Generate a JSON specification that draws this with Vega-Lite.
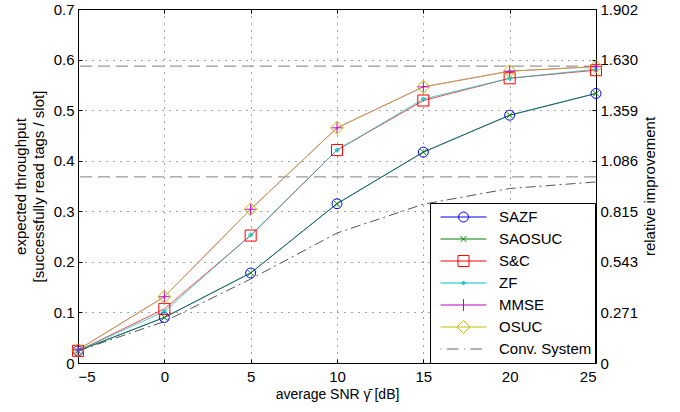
{
  "$schema": "https://vega.github.io/schema/vega-lite/v6.json",
  "width": 518,
  "height": 354,
  "autosize": {"type": "none"},
  "padding": {"left": 78, "top": 9, "right": 84, "bottom": 49},
  "background": "white",
  "config": {
    "view": {"stroke": null},
    "axis": {
      "domainColor": "black", "domainWidth": 1, "tickColor": "black", "tickWidth": 1,
      "labelColor": "black", "titleColor": "black",
      "labelFont": "Liberation Sans", "titleFont": "Liberation Sans",
      "labelFontSize": 15, "titleFontSize": 15, "titleFontWeight": "normal",
      "gridColor": "#444", "gridDash": [1, 6], "gridWidth": 1,
      "tickSize": -4, "labelPadding": 8
    },
    "legend": {
      "labelFont": "Liberation Sans", "labelFontSize": 15, "labelColor": "black"
    }
  },
  "datasets": {
    "curves": [
      {"series": "SAZF", "snr": -5, "tp": 0.024}, {"series": "SAZF", "snr": 0, "tp": 0.090}, {"series": "SAZF", "snr": 5, "tp": 0.178}, {"series": "SAZF", "snr": 10, "tp": 0.315}, {"series": "SAZF", "snr": 15, "tp": 0.417}, {"series": "SAZF", "snr": 20, "tp": 0.490}, {"series": "SAZF", "snr": 25, "tp": 0.533},
      {"series": "SAOSUC", "snr": -5, "tp": 0.024}, {"series": "SAOSUC", "snr": 0, "tp": 0.090}, {"series": "SAOSUC", "snr": 5, "tp": 0.178}, {"series": "SAOSUC", "snr": 10, "tp": 0.315}, {"series": "SAOSUC", "snr": 15, "tp": 0.417}, {"series": "SAOSUC", "snr": 20, "tp": 0.490}, {"series": "SAOSUC", "snr": 25, "tp": 0.533},
      {"series": "S&C", "snr": -5, "tp": 0.024}, {"series": "S&C", "snr": 0, "tp": 0.107}, {"series": "S&C", "snr": 5, "tp": 0.252}, {"series": "S&C", "snr": 10, "tp": 0.421}, {"series": "S&C", "snr": 15, "tp": 0.519}, {"series": "S&C", "snr": 20, "tp": 0.563}, {"series": "S&C", "snr": 25, "tp": 0.579},
      {"series": "ZF", "snr": -5, "tp": 0.024}, {"series": "ZF", "snr": 0, "tp": 0.102}, {"series": "ZF", "snr": 5, "tp": 0.253}, {"series": "ZF", "snr": 10, "tp": 0.421}, {"series": "ZF", "snr": 15, "tp": 0.522}, {"series": "ZF", "snr": 20, "tp": 0.563}, {"series": "ZF", "snr": 25, "tp": 0.581},
      {"series": "MMSE", "snr": -5, "tp": 0.026}, {"series": "MMSE", "snr": 0, "tp": 0.131}, {"series": "MMSE", "snr": 5, "tp": 0.304}, {"series": "MMSE", "snr": 10, "tp": 0.465}, {"series": "MMSE", "snr": 15, "tp": 0.546}, {"series": "MMSE", "snr": 20, "tp": 0.577}, {"series": "MMSE", "snr": 25, "tp": 0.586},
      {"series": "OSUC", "snr": -5, "tp": 0.026}, {"series": "OSUC", "snr": 0, "tp": 0.131}, {"series": "OSUC", "snr": 5, "tp": 0.304}, {"series": "OSUC", "snr": 10, "tp": 0.465}, {"series": "OSUC", "snr": 15, "tp": 0.546}, {"series": "OSUC", "snr": 20, "tp": 0.577}, {"series": "OSUC", "snr": 25, "tp": 0.586},
      {"series": "Conv. System", "snr": -5, "tp": 0.024}, {"series": "Conv. System", "snr": 0, "tp": 0.082}, {"series": "Conv. System", "snr": 5, "tp": 0.166}, {"series": "Conv. System", "snr": 10, "tp": 0.257}, {"series": "Conv. System", "snr": 15, "tp": 0.314}, {"series": "Conv. System", "snr": 20, "tp": 0.345}, {"series": "Conv. System", "snr": 25, "tp": 0.358}
    ],
    "refs": [{"level": 0.587}, {"level": 0.3679}]
  },
  "data": {"name": "curves"},
  "layer": [
    {
      "data": {"name": "refs"},
      "mark": {"type": "rule", "color": "#999999", "strokeWidth": 1.3, "strokeDash": [12, 6]},
      "encoding": {
        "y": {"field": "level", "type": "quantitative", "scale": {"domain": [0, 0.7], "nice": false, "zero": true}, "axis": null}
      }
    },
    {
      "transform": [{"filter": "datum.series !== 'Conv. System'"}],
      "mark": {"type": "line", "strokeWidth": 1, "opacity": 0.72},
      "encoding": {
        "x": {"field": "snr", "type": "quantitative", "scale": {"domain": [-5, 25], "nice": false, "zero": false},
              "axis": {"orient": "bottom", "values": [-5, 0, 5, 10, 15, 20, 25], "grid": true, "labelPadding": 10, "title": "average SNR γ̄ [dB]", "titleFontSize": 14, "titlePadding": 3}},
        "y": {"field": "tp", "type": "quantitative", "scale": {"domain": [0, 0.7], "nice": false},
              "axis": {"orient": "left", "values": [0, 0.1, 0.2, 0.3, 0.4, 0.5, 0.6, 0.7], "grid": true,
                       "labelExpr": "datum.value === 0 ? '0' : format(datum.value, '.1f')",
                       "title": ["expected throughput", "[successfully read tags / slot]"], "titleLineHeight": 18, "titlePadding": 7}},
        "color": {"field": "series", "type": "nominal",
                  "scale": {"domain": ["SAZF", "SAOSUC", "S&C", "ZF", "MMSE", "OSUC"], "range": ["#0000ff", "#008000", "#ff0000", "#00bfbf", "#bf00bf", "#bfbf00"]},
                  "legend": null}
      }
    },
    {
      "transform": [{"filter": "datum.series === 'Conv. System'"}],
      "mark": {"type": "line", "strokeWidth": 1, "color": "#555555", "strokeDash": [10, 4, 2, 4]},
      "encoding": {
        "x": {"field": "snr", "type": "quantitative", "axis": null},
        "y": {"field": "tp", "type": "quantitative", "axis": null}
      }
    },
    {
      "transform": [{"filter": "datum.series !== 'Conv. System'"}],
      "mark": {"type": "point", "filled": false, "strokeWidth": 1, "size": 144, "opacity": 1},
      "encoding": {
        "x": {"field": "snr", "type": "quantitative",
              "axis": {"orient": "top", "values": [-5, 0, 5, 10, 15, 20, 25], "labels": false, "grid": false, "title": null}},
        "y": {"field": "tp", "type": "quantitative",
              "axis": {"orient": "right", "values": [0, 0.1, 0.2, 0.3, 0.4, 0.5, 0.6, 0.7], "grid": false,
                       "labelExpr": "['0','0.271','0.543','0.815','1.086','1.359','1.630','1.902'][round(datum.value*10)]",
                       "title": "relative improvement", "titleAngle": 270, "titleBaseline": "top", "titlePadding": 5}},
        "color": {"field": "series", "type": "nominal",
                  "scale": {"domain": ["SAZF", "SAOSUC", "S&C", "ZF", "MMSE", "OSUC"], "range": ["#0000ff", "#008000", "#ff0000", "#00bfbf", "#bf00bf", "#bfbf00"]},
                  "legend": null},
        "shape": {"field": "series", "type": "nominal",
                  "scale": {"domain": ["SAZF", "SAOSUC", "S&C", "ZF", "MMSE", "OSUC"],
                            "range": [
                              "M-0.83,0A0.83,0.83 0 1,0 0.83,0A0.83,0.83 0 1,0 -0.83,0Z",
                              "M-0.5,-0.5L0.5,0.5M-0.5,0.5L0.5,-0.5",
                              "M-0.92,-0.92H0.92V0.92H-0.92Z",
                              "M-0.3,0A0.3,0.3 0 1,0 0.3,0A0.3,0.3 0 1,0 -0.3,0ZM-0.12,0A0.12,0.12 0 1,0 0.12,0A0.12,0.12 0 1,0 -0.12,0Z",
                              "M-0.92,0H0.92M0,-0.92V0.92",
                              "M0,-1.08L1.08,0L0,1.08L-1.08,0Z"
                            ]},
                  "legend": null}
      }
    },
    {
      "mark": {"type": "point", "filled": false, "strokeWidth": 1, "opacity": 0},
      "encoding": {
        "x": {"field": "snr", "type": "quantitative", "axis": null},
        "y": {"field": "tp", "type": "quantitative", "axis": null},
        "color": {"field": "series", "type": "nominal",
                  "scale": {"domain": ["SAZF", "SAOSUC", "S&C", "ZF", "MMSE", "OSUC", "Conv. System"], "range": ["#0000ff", "#008000", "#ff0000", "#00bfbf", "#bf00bf", "#bfbf00", "#666666"]},
                  "legend": {"title": null, "orient": "none", "legendX": 352, "legendY": 194, "symbolSize": 2116, "clipHeight": 22, "rowPadding": 0, "padding": 3, "symbolOffset": 7, "labelOffset": 12, "fillColor": "white", "strokeColor": "black", "symbolStrokeWidth": 1, "symbolOpacity": 1, "symbolFillColor": "transparent"}},
        "shape": {"field": "series", "type": "nominal",
                  "scale": {"domain": ["SAZF", "SAOSUC", "S&C", "ZF", "MMSE", "OSUC", "Conv. System"],
                            "range": [
                              "M-1,0H1M-0.217,0A0.217,0.217 0 1,0 0.217,0A0.217,0.217 0 1,0 -0.217,0Z",
                              "M-1,0H1M-0.13,-0.13L0.13,0.13M-0.13,0.13L0.13,-0.13",
                              "M-1,0H1M-0.24,-0.24H0.24V0.24H-0.24Z",
                              "M-1,0H1M-0.07,0A0.07,0.07 0 1,0 0.07,0A0.07,0.07 0 1,0 -0.07,0ZM-0.03,0A0.03,0.03 0 1,0 0.03,0A0.03,0.03 0 1,0 -0.03,0Z",
                              "M-1,0H1M0,-0.26V0.26",
                              "M-1,0H1M0,-0.28L0.28,0L0,0.28L-0.28,0Z",
                              "M-1,0H-0.96M-0.72,0H-0.22M0.02,0H0.06M0.3,0H0.8"
                            ]},
                  "legend": {"title": null, "orient": "none", "legendX": 352, "legendY": 194, "symbolSize": 2116, "clipHeight": 22, "rowPadding": 0, "padding": 3, "symbolOffset": 7, "labelOffset": 12, "fillColor": "white", "strokeColor": "black", "symbolStrokeWidth": 1, "symbolOpacity": 1, "symbolFillColor": "transparent"}}
      }
    }
  ],
  "resolve": {
    "scale": {"color": "independent", "shape": "independent"},
    "axis": {"x": "independent", "y": "independent"}
  }
}
